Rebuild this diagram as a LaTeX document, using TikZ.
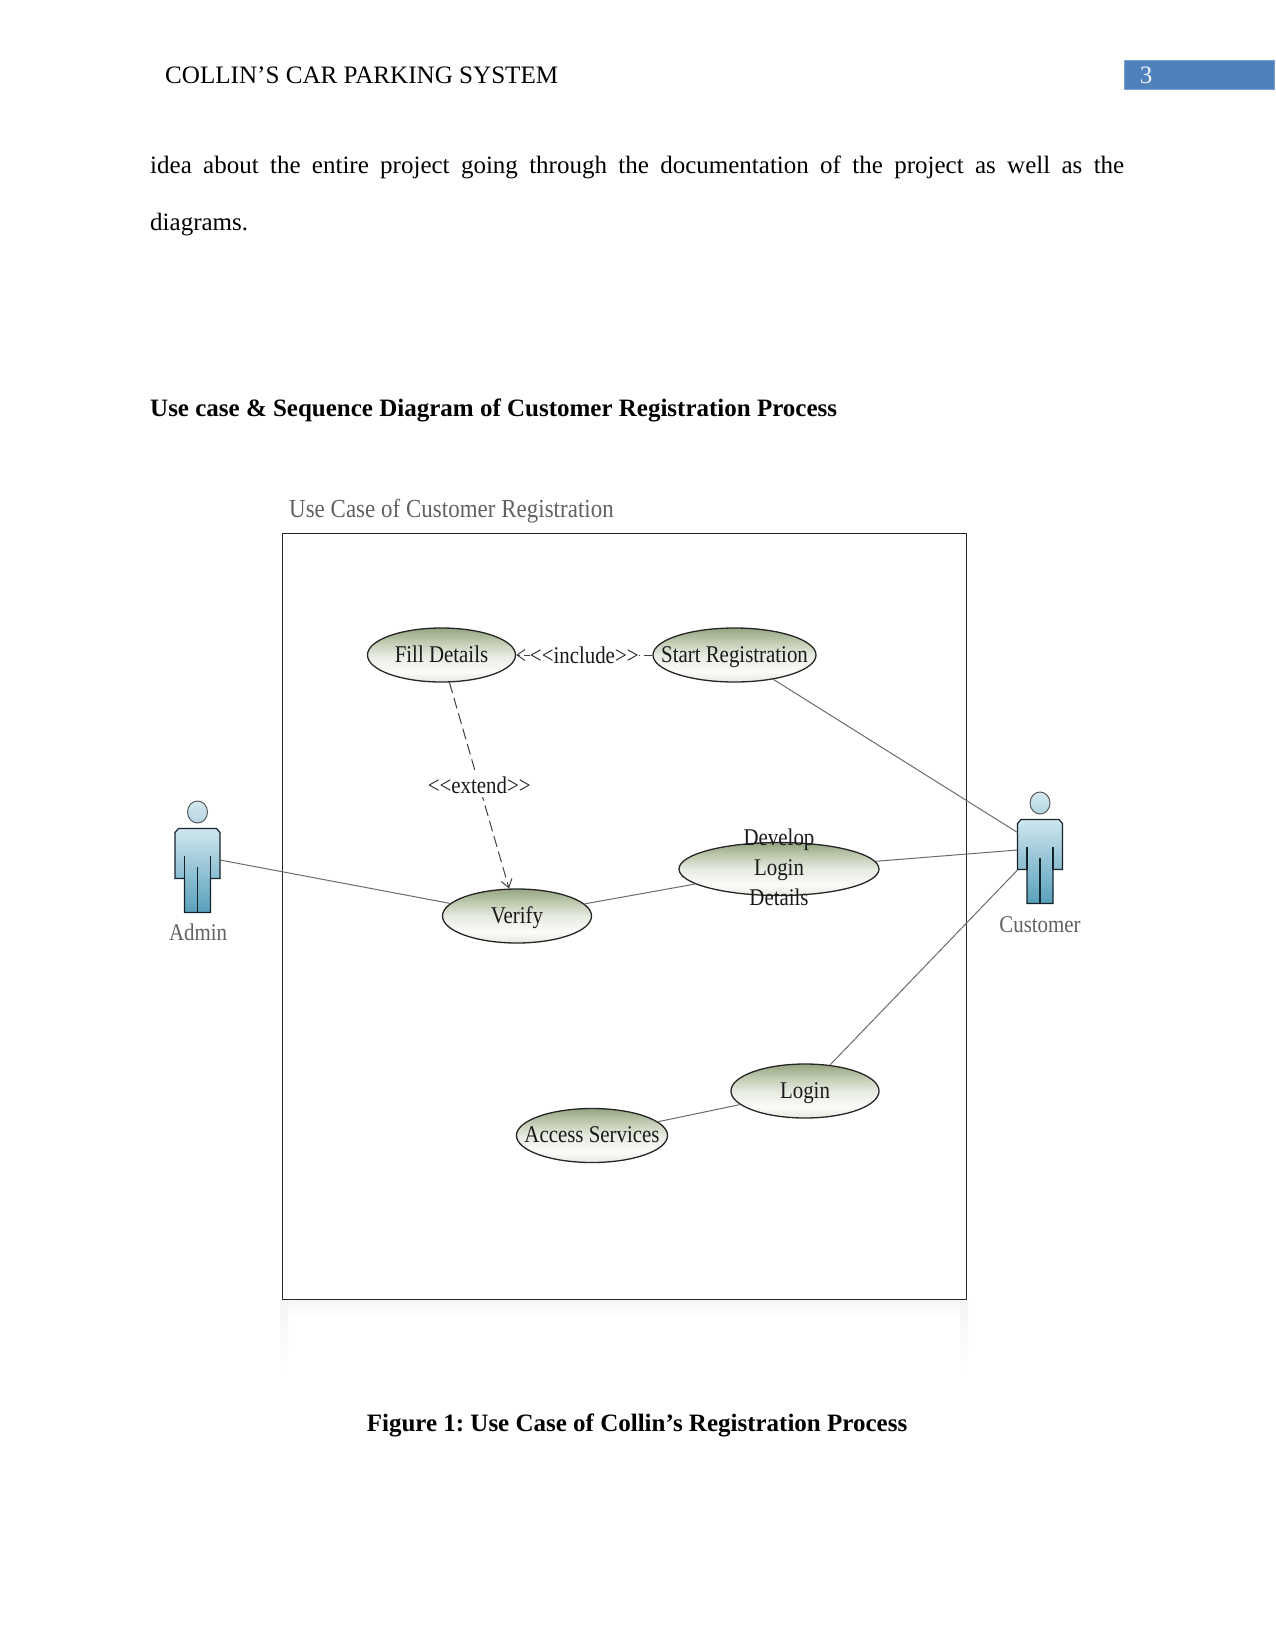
\documentclass[tikz,border=0pt]{standalone}
\usepackage{fontspec}
\setmainfont{Liberation Serif}
\newfontfamily\diagfont[FakeStretch=0.87]{Liberation Serif}
\newfontfamily\titlefont[FakeStretch=0.88,LetterSpace=0.25]{Liberation Serif}
\usetikzlibrary{shapes.geometric,arrows.meta}
\definecolor{pageblue}{HTML}{4F81BD}
\definecolor{diagtext}{HTML}{1A1A1A}
\definecolor{actorline}{HTML}{15232B}
\definecolor{ucA}{HTML}{E4E8DE}
\definecolor{ucB}{HTML}{FBFCFA}
\definecolor{ucC}{HTML}{E6EAE0}
\definecolor{ucD}{HTML}{C2CCB3}
\definecolor{ucE}{HTML}{96A582}
\definecolor{actorA}{HTML}{CFE6EE}
\definecolor{actorB}{HTML}{58A0BC}
\definecolor{headA}{HTML}{D5E8EF}
\definecolor{headB}{HTML}{B5D6E2}
\pgfdeclareverticalshading{ucshade}{100bp}{%
  color(0bp)=(ucA); color(25bp)=(ucA); color(35bp)=(ucB); color(50bp)=(ucC);
  color(62bp)=(ucD); color(75bp)=(ucE); color(100bp)=(ucE)}
\newcommand{\uctext}[1]{\makebox[0pt][c]{#1}}
\tikzset{
  usecase/.style={ellipse,draw=black!85,line width=1.3pt,shading=ucshade,inner sep=0pt,
    text height=19pt,text depth=4.4pt,
    font=\diagfont\fontsize{24}{26}\selectfont,text=diagtext},
  assoc/.style={draw=black!58,line width=1pt},
  relation/.style={draw=black!75,line width=1pt,dash pattern=on 11pt off 5pt,-{Straight Barb[length=8pt,width=11pt]}},
  includerel/.style={relation,dash pattern=on 8pt off 4pt},
  rellabel/.style={fill=white,inner xsep=0pt,inner ysep=3pt,font=\diagfont\fontsize{24}{26}\selectfont,text=diagtext},
  actorlabel/.style={font=\diagfont\fontsize{24}{26}\selectfont,text=black!62},
  doctext/.style={font=\fontsize{25.1}{25}\selectfont,text=black,inner sep=0pt},
  docbold/.style={font=\bfseries\fontsize{25}{25}\selectfont,text=black,inner sep=0pt},
  actorfig/.pic={
    \draw[draw=black!65,line width=1pt,top color=headA,bottom color=headB]
      (0,0) ellipse [x radius=10,y radius=11];
    \draw[draw=actorline,line width=1.2pt,top color=actorA,bottom color=actorB]
      (-19,16.5)--(19,16.5)--(22.5,20.5)--(22.5,66.5)--(13,66.5)--(13,100.5)--(-13,100.5)--(-13,66.5)--(-22.5,66.5)--(-22.5,20.5)--cycle;
    \draw[draw=actorline,line width=1.2pt] (-13,44)--(-13,66.5) (13,44)--(13,66.5) (0,55)--(0,100.5);
  }
}
\begin{document}
\begin{tikzpicture}[x=1pt,y=-1pt]
\useasboundingbox (0,0) rectangle (1275,1651);
% page furniture
\node[doctext,anchor=west] (header) at (165,75) {COLLIN’S CAR PARKING SYSTEM};
\node[fill=pageblue,draw=pageblue!75!white,line width=.6pt,minimum width=150pt,minimum height=29pt,inner sep=0pt] (pagebar) at (1199.5,74.5) {};
\node[font=\fontsize{25}{25}\selectfont,text=white!90!pageblue] (pagenum) at (1146,75) {3};
\node[anchor=north west,text width=974pt,align=justify,inner sep=0pt,font=\fontsize{25}{57}\selectfont] (para) at (150,155.6)
  {idea about the entire project going through the documentation of the project as well as the\linebreak diagrams.};
\node[docbold,anchor=west] (heading) at (150,410) {Use case \& Sequence Diagram of Customer Registration Process};
\node[docbold] (caption) at (637,1425) {\frenchspacing Figure 1: Use Case of Collin’s Registration Process};
% reflection below the frame
\shade[top color=black!4,bottom color=white] (280,1300) rectangle (968,1316);
\shade[top color=black!4,bottom color=white] (280,1300) rectangle (288,1376);
\shade[top color=black!4,bottom color=white] (960,1300) rectangle (968,1376);
% system frame
\node[draw=black!85,line width=1pt,minimum width=684pt,minimum height=766pt,inner sep=0pt] (system) at (624,916) {};
\node[font=\titlefont\fontsize{26}{28}\selectfont,text=black!62,anchor=west,inner sep=0pt] (systitle) at (289,511) {Use Case of Customer Registration};
% use cases
\node[usecase,minimum width=148pt,minimum height=54pt] (fill) at (441.5,655) {\uctext{Fill Details}};
\node[usecase,minimum width=163pt,minimum height=54pt] (start) at (734.5,655) {\uctext{Start Registration}};
\node[usecase,minimum width=149pt,minimum height=54pt] (verify) at (517,916) {\uctext{Verify}};
\node[usecase,minimum width=200pt,minimum height=53pt] (develop) at (779,869)
  {\smash{\makebox[0pt][c]{\begin{tabular}{@{}c@{}}Develop\\[4pt]Login\\[4pt]Details\end{tabular}}}};
\node[usecase,minimum width=148pt,minimum height=54pt] (login) at (805,1091) {\uctext{Login}};
\node[usecase,minimum width=151pt,minimum height=54pt] (access) at (592,1135.5) {\uctext{Access Services}};
% actors
\pic at (197.5,812) {actorfig};
\pic at (1040,803) {actorfig};
\node[actorlabel] (adminlabel) at (198,932) {Admin};
\node[actorlabel] (customerlabel) at (1040,925) {Customer};
\coordinate (adminport) at (220,860);
\coordinate (custport1) at (1017.5,832.5);
\coordinate (custport2) at (1017.5,850);
\coordinate (custport3) at (1017.5,870);
% connectors
\draw[assoc] (adminport) -- (verify);
\draw[assoc] (verify) -- (develop);
\draw[assoc] (start) -- (custport1);
\draw[assoc] (develop) -- (custport2);
\draw[assoc] (login) -- (custport3);
\draw[assoc] (access) -- (login);
\draw[includerel] (start) -- node[rellabel,midway] (inclabel) {<{}<include>{}>} (fill);
\draw[relation] (fill) -- node[rellabel,midway] (extlabel) {<{}<extend>{}>} (verify);
\end{tikzpicture}
\end{document}
